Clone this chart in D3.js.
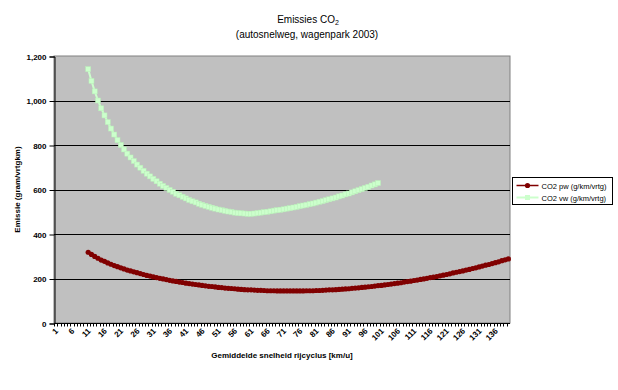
<!DOCTYPE html>
<html>
<head>
<meta charset="utf-8">
<script src="https://cdn.jsdelivr.net/npm/d3@7"></script>
<style>
  body { margin: 0; background: #fff; }
  text { font-family: "Liberation Sans", Arial, sans-serif; fill: #000; }
</style>
</head>
<body>
<div id="chart"></div>
<script>
// categories: average speed of the drive cycle (km/u)
var speeds = d3.range(1, 141);
var tickSpeeds = d3.range(1, 141, 5);
var yTicks = [0, 200, 400, 600, 800, 1000, 1200];

// CO2 pw, from 11 to 140 km/u
var pwStart = 11;
var pwValues = [
  318, 308, 299, 291, 283, 277, 270, 264, 258, 253,
  248, 243, 238, 234, 230, 226, 222, 218, 214, 211,
  207, 204, 201, 198, 195, 192, 189, 187, 184, 182,
  179, 177, 175, 173, 171, 169, 167, 165, 164, 162,
  160, 159, 157, 156, 155, 154, 152, 151, 150, 149,
  149, 148, 147, 147, 146, 145, 145, 145, 144, 144,
  144, 144, 144, 144, 144, 144, 144, 145, 145, 145,
  146, 146, 147, 148, 149, 149, 150, 151, 152, 153,
  154, 156, 157, 158, 160, 161, 163, 164, 166, 168,
  169, 171, 173, 175, 177, 179, 181, 184, 186, 188,
  191, 193, 196, 198, 201, 204, 206, 209, 212, 215,
  218, 221, 225, 228, 231, 234, 238, 241, 245, 248,
  252, 256, 260, 263, 267, 271, 275, 280, 284, 288
];

// CO2 vw, from 11 to 100 km/u
var vwStart = 11;
var vwValues = [
  1141, 1088, 1041, 1000, 965, 933, 903, 874, 847, 822,
  800, 780, 761, 744, 728, 712, 698, 684, 671, 659,
  648, 637, 626, 616, 607, 598, 590, 581, 574, 567,
  560, 553, 547, 542, 536, 531, 526, 522, 518, 514,
  510, 507, 504, 501, 499, 496, 494, 493, 492, 491,
  491, 492, 494, 496, 498, 500, 502, 505, 507, 509,
  511, 514, 516, 519, 522, 525, 528, 531, 534, 537,
  541, 545, 548, 552, 556, 560, 564, 569, 573, 578,
  582, 587, 592, 597, 602, 607, 612, 618, 623, 629
];

var seriesNames = ["CO2 pw (g/km/vrtg)", "CO2 vw (g/km/vrtg)"];
var seriesColors = ["#800000", "#CCFFCC"];

var width = 618;
var height = 390;
var plot = { left: 54, right: 510, top: 56, bottom: 323 };

var svg = d3.select('#chart')
    .append('svg')
    .attr('width', width)
    .attr('height', height);

var x = d3.scaleBand()
    .domain(speeds)
    .range([plot.left, plot.right])
    .padding(0);

var y = d3.scaleLinear()
    .domain([0, 1200])
    .range([plot.bottom, plot.top]);

function toPoints(start, values) {
    return values.map(function(v, i) {
        return { speed: start + i, value: v };
    });
}

var pw = toPoints(pwStart, pwValues);
var vw = toPoints(vwStart, vwValues);

// plot area
svg.append('rect')
    .attr('x', plot.left)
    .attr('y', plot.top)
    .attr('width', plot.right - plot.left)
    .attr('height', plot.bottom - plot.top)
    .attr('fill', '#C0C0C0')
    .attr('stroke', '#808080')
    .attr('stroke-width', 1);

// gridlines
svg.append('g')
    .selectAll('line')
    .data(yTicks.filter(function(d) { return d > 0 && d < 1200; }))
    .enter()
    .append('line')
    .attr('x1', plot.left)
    .attr('x2', plot.right)
    .attr('y1', function(d) { return Math.round(y(d)) + 0.5; })
    .attr('y2', function(d) { return Math.round(y(d)) + 0.5; })
    .attr('stroke', '#000')
    .attr('stroke-width', 1);

// y axis
var yAxis = svg.append('g')
    .attr('transform', 'translate(' + (plot.left + 0.5) + ',0.5)')
    .call(d3.axisLeft(y)
        .tickValues(yTicks)
        .tickSize(5)
        .tickPadding(3)
        .tickFormat(d3.format(',')));
yAxis.select('.domain').attr('stroke', '#000');
yAxis.selectAll('text')
    .style('font-size', '8px')
    .style('font-weight', 'bold');

// x axis: a tick on every category edge, a label every 5th
var xAxis = svg.append('g')
    .attr('transform', 'translate(0,' + (plot.bottom + 0.5) + ')');
xAxis.append('line')
    .attr('x1', plot.left)
    .attr('x2', plot.right)
    .attr('stroke', '#000');
xAxis.selectAll('.tick')
    .data(speeds)
    .enter()
    .append('line')
    .attr('class', 'tick')
    .attr('x1', function(d) { return Math.round(x(d)) + 0.5; })
    .attr('x2', function(d) { return Math.round(x(d)) + 0.5; })
    .attr('y1', 0)
    .attr('y2', 3)
    .attr('stroke', '#000');
xAxis.selectAll('.lbl')
    .data(tickSpeeds)
    .enter()
    .append('text')
    .attr('class', 'lbl')
    .attr('text-anchor', 'end')
    .attr('transform', function(d) {
        return 'translate(' + (x(d) + x.bandwidth() / 2 + 3) + ',8) rotate(-45)';
    })
    .style('font-size', '8px')
    .style('font-weight', 'bold')
    .text(function(d) { return d; });

// lines
var line = d3.line()
    .x(function(d) { return x(d.speed) + x.bandwidth() / 2; })
    .y(function(d) { return y(d.value); });

svg.append('path')
    .datum(vw)
    .attr('d', line)
    .attr('fill', 'none')
    .attr('stroke', seriesColors[1])
    .attr('stroke-width', 2);

svg.append('g')
    .selectAll('rect')
    .data(vw)
    .enter()
    .append('rect')
    .attr('x', function(d) { return x(d.speed) + x.bandwidth() / 2 - 2.5; })
    .attr('y', function(d) { return y(d.value) - 2.5; })
    .attr('width', 5)
    .attr('height', 5)
    .attr('fill', seriesColors[1])
    .attr('stroke', '#B8F0B8')
    .attr('stroke-width', 0.5);

svg.append('path')
    .datum(pw)
    .attr('d', line)
    .attr('fill', 'none')
    .attr('stroke', seriesColors[0])
    .attr('stroke-width', 3);

svg.append('g')
    .selectAll('circle')
    .data(pw)
    .enter()
    .append('circle')
    .attr('cx', function(d) { return x(d.speed) + x.bandwidth() / 2; })
    .attr('cy', function(d) { return y(d.value); })
    .attr('r', 2.6)
    .attr('fill', seriesColors[0]);

// titles
var title = svg.append('text')
    .attr('x', 308)
    .attr('y', 23)
    .attr('text-anchor', 'middle')
    .style('font-size', '10px');
title.append('tspan').text('Emissies CO');
title.append('tspan')
    .attr('dy', 2)
    .style('font-size', '7px')
    .text('2');

svg.append('text')
    .attr('x', 307)
    .attr('y', 38)
    .attr('text-anchor', 'middle')
    .style('font-size', '10px')
    .text('(autosnelweg, wagenpark 2003)');

svg.append('text')
    .attr('x', 282)
    .attr('y', 358)
    .attr('text-anchor', 'middle')
    .style('font-size', '8px')
    .style('font-weight', 'bold')
    .text('Gemiddelde snelheid rijcyclus [km/u]');

svg.append('text')
    .attr('transform', 'translate(20,' + ((plot.top + plot.bottom) / 2) + ') rotate(-90)')
    .attr('text-anchor', 'middle')
    .style('font-size', '8px')
    .style('font-weight', 'bold')
    .text('Emissie (gram/vrtgkm)');

// legend
var legend = svg.append('g')
    .attr('transform', 'translate(512.5,177.5)');
legend.append('rect')
    .attr('width', 100)
    .attr('height', 27)
    .attr('fill', '#fff')
    .attr('stroke', '#000');

var item = legend.selectAll('.item')
    .data(seriesNames)
    .enter()
    .append('g')
    .attr('class', 'item')
    .attr('transform', function(d, i) { return 'translate(0,' + (8 + i * 12) + ')'; });

item.append('line')
    .attr('x1', 4)
    .attr('x2', 26)
    .attr('stroke', function(d, i) { return seriesColors[i]; })
    .attr('stroke-width', function(d, i) { return i === 0 ? 1.5 : 2; });

item.filter(function(d, i) { return i === 0; })
    .append('circle')
    .attr('cx', 15)
    .attr('r', 2.6)
    .attr('fill', seriesColors[0]);

item.filter(function(d, i) { return i === 1; })
    .append('rect')
    .attr('x', 12.5)
    .attr('y', -2.5)
    .attr('width', 5)
    .attr('height', 5)
    .attr('fill', seriesColors[1]);

item.append('text')
    .attr('x', 29)
    .attr('y', 3)
    .style('font-size', '7.5px')
    .text(function(d) { return d; });
</script>
</body>
</html>
